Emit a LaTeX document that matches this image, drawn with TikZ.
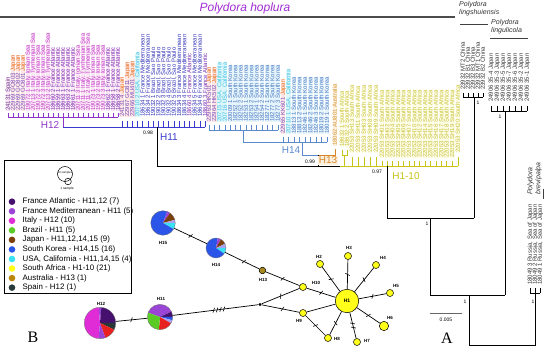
\documentclass[tikz,border=0pt]{standalone}
\usepackage{fontspec}
\setmainfont{Liberation Sans}
\newfontfamily\serifA{Liberation Serif}
\definecolor{cFA}{HTML}{46106E}
\definecolor{cFM}{HTML}{9B45D6}
\definecolor{cIT}{HTML}{E02CD6}
\definecolor{cBR}{HTML}{5BCB26}
\definecolor{cJP}{HTML}{7B3F0A}
\definecolor{cSK}{HTML}{2B55E8}
\definecolor{cUS}{HTML}{38E2F2}
\definecolor{cSA}{HTML}{FFFF1A}
\definecolor{cAU}{HTML}{B8860B}
\definecolor{cSP}{HTML}{263838}
\definecolor{cRD}{HTML}{E82020}
\definecolor{cLV}{HTML}{A9A2F2}
\definecolor{cH13}{HTML}{A8891E}
\definecolor{lH12}{HTML}{8E35C8}
\definecolor{lH11}{HTML}{3A3ACC}
\definecolor{lH15}{HTML}{5A8ACB}
\definecolor{lH13}{HTML}{D8862A}
\definecolor{lH1}{HTML}{C9C318}
\definecolor{jpw}{HTML}{E8701C}
\definecolor{ttl}{HTML}{A02CD2}
\definecolor{gtxt}{HTML}{333333}
\definecolor{tIT}{HTML}{C23BC8}
\definecolor{fPK}{HTML}{FBE6F6}
\definecolor{tFA}{HTML}{7A2FB0}
\definecolor{tSP}{HTML}{6A3A8A}
\definecolor{tJP}{HTML}{7A4FC0}
\definecolor{fJP}{HTML}{FDE6E4}
\definecolor{tFM}{HTML}{3434B8}
\definecolor{tUS}{HTML}{40C4E4}
\definecolor{fUS}{HTML}{DDF6FB}
\definecolor{tSK}{HTML}{4A7AC4}
\definecolor{fSK}{HTML}{E6F4FB}
\definecolor{tSA}{HTML}{C9C23A}
\definecolor{fSA}{HTML}{FCFCE4}
\definecolor{tAU}{HTML}{D59A3A}
\definecolor{fAU}{HTML}{FDF0DE}
\newcommand{\jp}[1]{\textcolor{jpw}{#1}}
\newcommand{\pieslice}[6]{\fill[#6] (#1,#2) -- ++(#4:#3) arc[start angle=#4,end angle=#5,radius=#3] -- cycle;}
\begin{document}
\begin{tikzpicture}[x=1pt,y=-1pt,
 tip/.style={rotate=90,anchor=west,inner sep=0pt,outer sep=0pt,text height=4.3pt,text depth=0.6pt,font=\fontsize{6}{6}\selectfont},
 labit/.style={text=tIT,fill=fPK},
 labfa/.style={text=tFA,fill=fPK},
 labfb/.style={text=tFA},
 labsp/.style={text=tSP,fill=fPK},
 labjp/.style={text=tJP,fill=fJP},
 labfm/.style={text=tFM},
 labbr/.style={text=tFM},
 labus/.style={text=tUS,fill=fUS},
 labsk/.style={text=tSK,fill=fSK},
 labsa/.style={text=tSA,fill=fSA},
 labau/.style={text=tAU,fill=fAU},
 labcn/.style={text=gtxt},
 tline/.style={line width=0.8pt},
 edge/.style={line width=0.7pt},
 hash/.style={draw,line width=0.6pt,inner sep=0pt,minimum width=0pt,minimum height=5pt,sloped,rotate=-25},
 hapl/.style={circle,draw,line width=0.5pt,inner sep=0pt,fill=cSA,minimum size=7pt},
 pienode/.style={circle,draw=black!55,line width=0.3pt,inner sep=0pt},
 netlab/.style={font=\bfseries\fontsize{4.5}{5}\selectfont,inner sep=0pt},
 legtxt/.style={anchor=west,inner sep=0pt,font=\fontsize{7.9}{9}\selectfont},
 boot/.style={font=\fontsize{5}{5}\selectfont,inner sep=0pt},
 spname/.style={anchor=north west,align=left,inner sep=0pt,text=gtxt,font=\itshape\fontsize{7}{8}\selectfont},
 clab/.style={inner sep=0.5pt,font=\fontsize{10}{10}\selectfont}
]
\useasboundingbox (0,0) rectangle (550,350);

% ---------- titles ----------
\node[font=\itshape\fontsize{12}{12}\selectfont,text=ttl,inner sep=0pt] (title) at (245,8) {Polydora hoplura};
\draw[line width=1.2pt,color=black!70] (0,17) -- (455,17);
\node[spname] (splsh) at (459,1.5) {Polydora\\lingshuiensis};
\draw[line width=0.9pt,color=black!75] (460,24) -- (488,24);
\node[spname] (splgl) at (491,19.5) {Polydora\\lingulicola};
\draw[line width=0.9pt,color=black!75] (490,38) -- (528,38);

% ---------- H12 tips ----------
\foreach \lc/\ltext [count=\i] in {
 sp/{24131 Spain},
 jp/{22969 GO803 \jp{Japan}},
 jp/{22969 GO802 \jp{Japan}},
 jp/{22969 GO801 \jp{Japan}},
 it/{19072 1 Italy, Ionian Sea},
 it/{20713 1 Italy, Tyrrhenian Sea},
 it/{19072 2 Italy, Ionian Sea},
 it/{19072 3 Italy, Ionian Sea},
 it/{20713 2 Italy, Tyrrhenian Sea},
 fa/{18660 2 France Atlantic},
 fa/{18659 1 France Atlantic},
 fa/{18663 1 France Atlantic},
 fa/{18663 2 France Atlantic},
 fa/{18661 1 France Atlantic},
 it/{20711 3 Italy, Ionian Sea},
 it/{20711 1 Italy, Tyrrhenian Sea},
 it/{20711 2 Italy, Tyrrhenian Sea},
 it/{19073 1 Italy, Ionian Sea},
 it/{19073 2 Italy, Ionian Sea},
 it/{19073 3 Italy, Ionian Sea},
 fa/{18662 1 France Atlantic},
 fa/{18658 1 France Atlantic},
 fa/{18658 2 France Atlantic}}{
 \pgfmathsetmacro{\lx}{8+5*(\i-1)}
 \node[tip,lab\lc] (ta\i) at (\lx,111) {\ltext};
 \draw[lH12,tline] (\lx,113) -- (\lx,117);
}
% ---------- H11 tips ----------
\foreach \lc/\ltext [count=\i] in {
 jp/{24131 4 \jp{Japan}},
 jp/{22967 GO811 \jp{Japan}},
 jp/{22966 MU401 \jp{Japan}},
 us/{20710 2 USA, California},
 fm/{18634 1 France Mediterranean},
 fm/{18634 2 France Mediterranean},
 br/{19032 1 Brazil, Sao Paulo},
 br/{19032 2 Brazil, Sao Paulo},
 br/{19032 3 Brazil, Sao Paulo},
 br/{19032 4 Brazil, Sao Paulo},
 br/{19032 5 Brazil, Sao Paulo},
 fm/{18634 3 France Mediterranean},
 fm/{18634 4 France Mediterranean},
 fb/{18660 4 France Atlantic},
 fm/{18634 5 France Mediterranean},
 fm/{18634 6 France Mediterranean},
 fb/{18660 3 France Atlantic}}{
 \pgfmathsetmacro{\lx}{122+5.2*(\i-1)}
 \node[tip,lab\lc] (tb\i) at (\lx,117) {\ltext};
 \draw[lH11,tline] (\lx,121) -- (\lx,127);
}
% ---------- H15 tips ----------
\foreach \lc/\ltext [count=\i] in {
 jp/{22963 HK501 \jp{Japan}},
 jp/{22964 HK502 \jp{Japan}},
 us/{20715 USA, California},
 us/{20716 USA, California},
 sk/{20009 1 South Korea},
 sk/{18252 1 South Korea},
 sk/{18252 2 South Korea},
 sk/{18253 1 South Korea},
 sk/{18253 2 South Korea},
 sk/{18254 1 South Korea},
 sk/{18254 2 South Korea},
 sk/{18277 1 South Korea},
 sk/{18277 2 South Korea},
 sk/{18277 3 South Korea}}{
 \pgfmathsetmacro{\lx}{209+5.3*(\i-1)}
 \node[tip,lab\lc] (tc\i) at (\lx,122) {\ltext};
 \draw[lH15,tline] (\lx,125) -- (\lx,130);
}
% ---------- H14 tips ----------
\foreach \lc/\ltext [count=\i] in {
 jp/{22965 KK601 \jp{Japan}},
 us/{20710 1 USA, California},
 sk/{18813 1 South Korea},
 sk/{18813 2 South Korea},
 sk/{18246 1 South Korea},
 sk/{18246 2 South Korea},
 sk/{18246 3 South Korea},
 sk/{18019 2 South Korea},
 sk/{18019 1 South Korea}}{
 \pgfmathsetmacro{\lx}{283+5.5*(\i-1)}
 \node[tip,lab\lc] (td\i) at (\lx,134) {\ltext};
 \draw[lH15,tline] (\lx,137) -- (\lx,142);
}
% ---------- H13 tip ----------
\node[tip,labau] (te1) at (335,146) {18062 AU801 Australia};
% ---------- H1-10 tips ----------
\foreach \lx/\lb/\ltt/\ltb/\ltext [count=\i] in {
 342/147/150/155/{18632 1 South Africa},
 347/147/150/155/{18632 2 South Africa},
 352/153/157/166/{22053 SH13 South Africa},
 358/153/157/166/{22053 SH11 South Africa},
 364/153/157/166/{22053 SH03 South Africa},
 370/153/157/166/{22053 SH08 South Africa},
 376/153/157/166/{22053 SH09 South Africa},
 382/158/161/166/{22053 SH01 South Africa},
 387.4/158/161/166/{22053 SH02 South Africa},
 392.8/158/161/166/{22053 SH04 South Africa},
 398.2/158/161/166/{22053 SH05 South Africa},
 403.6/158/161/166/{22053 SH06 South Africa},
 409/158/161/166/{22053 SH07 South Africa},
 414.4/158/161/166/{22053 SH10 South Africa},
 419.8/158/161/166/{22053 SH12 South Africa},
 425.2/158/161/166/{22053 SH14 South Africa},
 430.6/158/161/166/{22053 SH15 South Africa},
 436/158/161/166/{22053 SH16 South Africa},
 441.4/158/161/166/{22053 SH17 South Africa},
 446.8/158/161/166/{22053 SH18 South Africa},
 452.2/158/161/166/{22053 SH19 South Africa},
 458/153/157/166/{22053 SH20 South Africa}}{
 \node[tip,labsa] (tf\i) at (\lx,\lb) {\ltext};
 \draw[lH1,tline] (\lx,\ltt) -- (\lx,\ltb);
}
% ---------- other species tips ----------
\foreach \lx/\ltext [count=\i] in {463/{23932 MT2 China},468/{23932 B1 China},473/{23932 B3 China},478/{23932 MT1 China},483/{23932 B2 China}}{
 \node[tip,labcn] (tg\i) at (\lx,90) {\ltext};
 \draw[tline] (\lx,93) -- (\lx,97);
}
\foreach \lx/\ltext [count=\i] in {491/{24906 35-4 Japan},497/{24906 35-3 Japan},503/{24906 35-5 Japan},509/{24906 35-7 Japan},515/{24906 35-6 Japan},521/{24906 35-2 Japan},527/{24906 35-1 Japan}}{
 \node[tip,labcn] (th\i) at (\lx,102) {\ltext};
 \draw[tline] (\lx,106) -- (\lx,111);
}
\foreach \lx/\ltext [count=\i] in {530/{18049 3 Russia, Sea of Japan},535/{18049 2 Russia, Sea of Japan},540/{18049 1 Russia, Sea of Japan}}{
 \node[tip,labcn] (ti\i) at (\lx,285) {\ltext};
 \draw[tline] (\lx,288) -- (\lx,293);
}
\node[spname,anchor=west,rotate=90] (spbrv) at (534.5,195) {Polydora\\brevipalpa};
\draw[line width=0.8pt,color=black!75] (543,189) -- (543,199);

% ---------- tree branches ----------
\draw[lH12,tline] (8,117) -- (118,117);
\draw[lH12,tline] (63,117) -- (63,127);
\draw[lH11,tline] (63,127) -- (205.2,127);
\draw[tline] (157,127) -- (157,166) -- (340,166);
\draw[lH15,tline] (209,130) -- (277.9,130);
\draw[lH15,tline] (243,130) -- (243,142) -- (327,142);
\draw[lH15,tline] (302,142) -- (302,155) -- (318,155);
\draw[lH13,tline] (318,155) -- (335,155) -- (335,149);
\draw[tline] (318,155) -- (318,166);
\draw[lH1,tline] (340,166) -- (458,166);
\draw[lH1,tline] (342,150) -- (342,155) -- (347,155) -- (347,150);
\draw[lH1,tline] (344.5,155) -- (344.5,166);
\draw[tline] (387,166) -- (387,218) -- (474,218);
\draw[tline] (474,97) -- (474,218);
\draw[tline] (430,218) -- (430,295) -- (505,295);
\draw[tline] (505,111) -- (505,295);
\draw[tline] (469,295) -- (469,345) -- (535,345) -- (535,293);
\draw[tline] (463,97) -- (483,97);
\draw[tline] (491,111) -- (527,111);
\draw[tline] (530,293) -- (540,293);

% clade labels and supports
\node[clab,text=lH12] (n12) at (50,125.5) {H12};
\node[clab,text=lH11] (n11) at (169,137) {H11};
\node[clab,text=lH15] (n14) at (291,150) {H14};
\node[clab,text=lH13,fill=fAU] (n13) at (328,160.5) {H13};
\node[clab,text=lH1] (n110) at (406,176) {H1-10};
\node[boot] (b1) at (148,133) {0.98};
\node[boot] (b2) at (310,161.5) {0.99};
\node[boot] (b3) at (377,172) {0.97};
\node[boot] (b4) at (478,103) {1};
\node[boot] (b5) at (500,117) {1};
\node[boot] (b6) at (427,223.5) {1};
\node[boot] (b7) at (465,302) {1};
\node[boot] (b8) at (533,302) {1};
\draw[line width=0.8pt,color=black!60] (430,313) -- (462,313);
\node[boot] (scl) at (446,320) {0.005};
\node[font=\serifA\fontsize{16}{16}\selectfont,inner sep=0pt] (labA) at (447,338) {A};
\node[font=\serifA\fontsize{16}{16}\selectfont,inner sep=0pt] (labB) at (33,337.5) {B};

% ---------- legend ----------
\node[draw,line width=0.7pt,inner sep=0pt,minimum width=127pt,minimum height=133pt,anchor=north west] (legbox) at (4,160) {};
\node[circle,draw,line width=0.5pt,minimum size=15pt,inner sep=0pt] (lbig) at (65,174) {};
\node[circle,draw,line width=0.5pt,minimum size=6.6pt,inner sep=0pt] (lsmall) at (68,181.5) {};
\node[font=\fontsize{2.8}{3}\selectfont,inner sep=0pt] (l10) at (65,172.5) {10 samples};
\node[font=\fontsize{3.3}{4}\selectfont,inner sep=0pt] (l1) at (67,189) {1 sample};
\foreach \lc/\ltext [count=\i] in {
 cFA/{France Atlantic - H11,12 (7)},
 cFM/{France Mediterranean - H11 (5)},
 cIT/{Italy - H12 (10)},
 cBR/{Brazil - H11 (5)},
 cJP/{Japan - H11,12,14,15 (9)},
 cSK/{South Korea - H14,15 (16)},
 cUS/{USA, California - H11,14,15 (4)},
 cSA/{South Africa - H1-10 (21)},
 cAU/{Australia - H13 (1)},
 cSP/{Spain - H12 (1)}}{
 \pgfmathsetmacro{\ly}{201.7+9.55*(\i-1)}
 \node[circle,fill=\lc,inner sep=0pt,minimum size=6.6pt] (ld\i) at (12,\ly) {};
 \node[legtxt] (lt\i) at (22.5,\ly) {\ltext};
}

% ---------- network: pies ----------
\pieslice{163}{223}{12.3}{0}{30}{cUS}
\pieslice{163}{223}{12.3}{30}{290}{cSK}
\pieslice{163}{223}{12.3}{290}{305}{cFM}
\pieslice{163}{223}{12.3}{305}{345}{cJP}
\pieslice{163}{223}{12.3}{345}{360}{cLV}
\pieslice{216}{248}{10}{0}{35}{cUS}
\pieslice{216}{248}{10}{35}{280}{cSK}
\pieslice{216}{248}{10}{280}{300}{cFM}
\pieslice{216}{248}{10}{300}{335}{cJP}
\pieslice{216}{248}{10}{335}{360}{cLV}
\pieslice{160}{317}{12.7}{200}{335}{cFM}
\pieslice{160}{317}{12.7}{335}{360}{cFA}
\pieslice{160}{317}{12.7}{0}{15}{cSK}
\pieslice{160}{317}{12.7}{15}{30}{cLV}
\pieslice{160}{317}{12.7}{30}{95}{cRD}
\pieslice{160}{317}{12.7}{95}{200}{cBR}
\pieslice{100}{323}{15.7}{95}{265}{cIT}
\pieslice{100}{323}{15.7}{265}{275}{cFM}
\pieslice{100}{323}{15.7}{275}{360}{cFA}
\pieslice{100}{323}{15.7}{0}{25}{cSP}
\pieslice{100}{323}{15.7}{25}{70}{cRD}
\pieslice{100}{323}{15.7}{70}{95}{cFM}
\node[pienode,minimum size=24.6pt] (H15) at (163,223) {};
\node[pienode,minimum size=20pt] (H14) at (216,248) {};
\node[pienode,minimum size=25.4pt] (H11) at (160,317) {};
\node[pienode,minimum size=31.4pt] (H12) at (100,323) {};
\node[hapl,fill=cH13,minimum size=6.6pt] (H13) at (262.5,270.5) {};
\node[circle,fill=black,inner sep=0pt,minimum size=3.4pt] (dot) at (260,304.5) {};
\node[hapl,minimum size=23.4pt,font=\bfseries\fontsize{5}{5}\selectfont] (H1) at (347,301) {H1};
\node[hapl] (H10) at (303,287) {};
\node[hapl] (H9) at (303,313) {};
\node[hapl] (H8) at (328,338) {};
\node[hapl] (H7) at (357,342) {};
\node[hapl,minimum size=9.4pt] (H6) at (384,326) {};
\node[hapl] (H5) at (390,293) {};
\node[hapl] (H4) at (376,265) {};
\node[hapl] (H3) at (348,256) {};
\node[hapl] (H2) at (320,264) {};

% ---------- network: edges ----------
\draw[edge] (H15) -- node[hash,pos=.5] (k1) {} (H14);
\draw[edge] (H14) -- node[hash,pos=.55] (k2) {} (H13);
\draw[edge] (H13) -- node[hash,pos=.5] (k3) {} (H10);
\draw[edge] (dot) -- node[hash,pos=.5] (k4) {} (H10);
\draw[edge] (dot) -- node[hash,pos=.55] (k5) {} (H9);
\draw[edge] (dot) -- node[hash,pos=.40] (k6) {} node[hash,pos=.44] (k7) {} node[hash,pos=.48] (k8) {} node[hash,pos=.52] (k9) {} (H11);
\draw[edge] (H11) -- node[hash,pos=.5] (k10) {} (H12);
\draw[edge] (H10) -- node[hash,pos=.5] (k11) {} (H1);
\draw[edge] (H9) -- (H1);
\draw[edge] (H9) -- node[hash,pos=.5] (k12) {} (H8);
\draw[edge] (H8) -- node[hash,pos=.5] (k13) {} (H1);
\draw[edge] (H7) -- node[hash,pos=.42] (k14) {} node[hash,pos=.58] (k15) {} (H1);
\draw[edge] (H6) -- node[hash,pos=.5] (k16) {} (H1);
\draw[edge] (H5) -- node[hash,pos=.5] (k17) {} (H1);
\draw[edge] (H4) -- node[hash,pos=.5] (k18) {} (H1);
\draw[edge] (H3) -- node[hash,pos=.5] (k19) {} (H1);
\draw[edge] (H2) -- node[hash,pos=.5] (k20) {} (H1);

% ---------- network: labels ----------
\node[netlab] (m15) at (163,243) {H15};
\node[netlab] (m14) at (216,265) {H14};
\node[netlab] (m13) at (263,279.5) {H13};
\node[netlab] (m11) at (161,299) {H11};
\node[netlab] (m12) at (101,304) {H12};
\node[netlab] (m10) at (316,283) {H10};
\node[netlab] (m9) at (299,321) {H9};
\node[netlab] (m8) at (337,339) {H8};
\node[netlab] (m7) at (367,340.5) {H7};
\node[netlab] (m6) at (390,318) {H6};
\node[netlab] (m5) at (396,286) {H5};
\node[netlab] (m4) at (383,258) {H4};
\node[netlab] (m3) at (349,248) {H3};
\node[netlab] (m2) at (319,257) {H2};
\end{tikzpicture}
\end{document}
